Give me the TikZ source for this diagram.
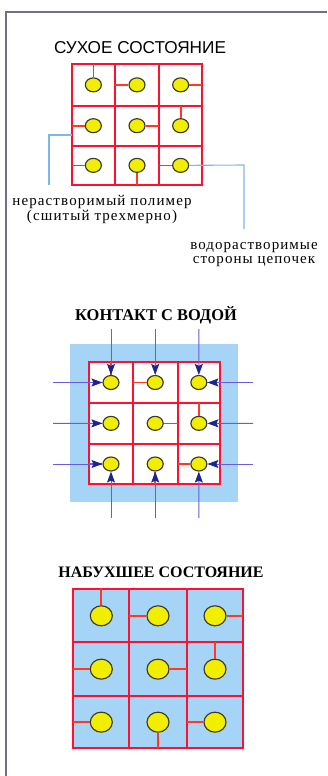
\documentclass[tikz,border=0pt]{standalone}
\usepackage{fontspec}
\setmainfont{Liberation Serif}
\newfontfamily\titlesans{Liberation Sans}
\usetikzlibrary{arrows.meta,shapes.geometric}
\definecolor{gridred}{HTML}{FF1030}
\definecolor{connred}{HTML}{FF3A20}
\definecolor{dotyellow}{HTML}{F2EE00}
\definecolor{dotedge}{HTML}{3A3A2A}
\definecolor{waterblue}{HTML}{A6D4F6}
\definecolor{leaderblue}{HTML}{7FB6F0}
\definecolor{arrowline}{HTML}{6A5CD8}
\definecolor{arrowhead}{HTML}{1A2590}
\definecolor{framegray}{HTML}{6E7088}
\tikzset{
  gridline/.style={draw=gridred, line width=1.9pt},
  conn/.style={draw=connred, line width=1.7pt},
  dot/.style={ellipse, draw=dotedge, fill=dotyellow, line width=1.15pt, inner sep=0pt, minimum width=16pt, minimum height=14pt},
  leader/.style={draw=leaderblue, line width=1.1pt},
  water/.style={draw=arrowline, line width=0.9pt, -{Stealth[length=11pt,width=8pt,inset=2pt,color=arrowhead]}},
  lbl/.style={align=center, inner sep=0pt},
}
\newcommand\gridpanel[9]{%
  \pgfmathsetmacro\cxa{(#2+#3)/2}\pgfmathsetmacro\cxb{(#3+#4)/2}\pgfmathsetmacro\cxc{(#4+#5)/2}%
  \pgfmathsetmacro\cya{(#6+#7)/2}\pgfmathsetmacro\cyb{(#7+#8)/2}\pgfmathsetmacro\cyc{(#8+#9)/2}%
  \draw[gridline] (#3,#6) -- (#3,#9) (#4,#6) -- (#4,#9) (#2,#7) -- (#5,#7) (#2,#8) -- (#5,#8);
  \draw[gridline] (#2,#6) rectangle (#5,#9);
  \node[dot] (#1-11) at (\cxa,\cya) {};
  \node[dot] (#1-12) at (\cxb,\cya) {};
  \node[dot] (#1-13) at (\cxc,\cya) {};
  \node[dot] (#1-21) at (\cxa,\cyb) {};
  \node[dot] (#1-22) at (\cxb,\cyb) {};
  \node[dot] (#1-23) at (\cxc,\cyb) {};
  \node[dot] (#1-31) at (\cxa,\cyc) {};
  \node[dot] (#1-32) at (\cxb,\cyc) {};
  \node[dot] (#1-33) at (\cxc,\cyc) {};
  \draw[conn] (#1-11.north) -- (\cxa,#6);
  \draw[conn] (#1-12.west) -- (#3,\cya);
  \draw[conn] (#1-13.east) -- (#5,\cya);
  \draw[conn] (#1-21.west) -- (#2,\cyb);
  \draw[conn] (#1-22.east) -- (#4,\cyb);
  \draw[conn] (#1-23.north) -- (\cxc,#7);
  \draw[conn] (#1-31.west) -- (#2,\cyc);
  \draw[conn] (#1-32.south) -- (\cxb,#9);
  \draw[conn] (#1-33.west) -- (#4,\cyc);
}
\begin{document}
\begin{tikzpicture}[x=1pt,y=-1pt]
\useasboundingbox (0,0) rectangle (327,776);
\fill[white] (0,0) rectangle (327,776);
% frame
\draw[framegray, line width=1.4pt] (6,776) -- (6,12) -- (327,12);

% ---------- dry state ----------
\node[font=\titlesans\fontsize{17.2}{19}\selectfont, inner sep=0pt] (t1) at (140,47.5) {СУХОЕ СОСТОЯНИЕ};
\gridpanel{d}{71.7}{115}{159}{202.3}{64}{105.7}{145.7}{185}
\node[lbl, anchor=north, font=\fontsize{15}{13.5}\selectfont\addfontfeature{LetterSpace=7.5}] (l1) at (102,195.5) {нерастворимый полимер\\(сшитый трехмерно)};
\node[lbl, anchor=north, font=\fontsize{15}{13.5}\selectfont\addfontfeature{LetterSpace=7}] (l2) at (254,242.5) {водорастворимые\\стороны цепочек};
\coordinate (lA) at (49,135);
\coordinate (lB) at (49,185);
\coordinate (rA) at (244,165);
\coordinate (rB) at (244,229);
\draw[leader] (71.7,135) -- (lA) -- (lB);
\draw[leader] (d-33.east) -- (rA) -- (rB);

% ---------- contact with water ----------
\node[font=\bfseries\fontsize{16.4}{18}\selectfont, inner sep=0pt] (t2) at (156,315) {КОНТАКТ С ВОДОЙ};
\fill[waterblue] (70,344) rectangle (238,502);
\fill[white] (89.3,362.3) rectangle (220,484);
\gridpanel{c}{89.3}{132.7}{177.7}{220}{362.3}{402.7}{444}{484}
\foreach \c/\xx in {1/111,2/155.2,3/198.8}{
  \coordinate (ct\c) at (\xx,329);
  \coordinate (cb\c) at (\xx,518);
  \draw[water] (ct\c) -- (c-1\c.north);
  \draw[water] (cb\c) -- (c-3\c.south);
}
\foreach \r/\yy in {1/382.5,2/423.3,3/464}{
  \coordinate (cl\r) at (53,\yy);
  \coordinate (cr\r) at (253,\yy);
  \draw[water] (cl\r) -- (c-\r1.west);
  \draw[water] (cr\r) -- (c-\r3.east);
}

% ---------- swollen state ----------
\node[font=\bfseries\fontsize{16}{18}\selectfont, inner sep=0pt] (t3) at (161,572.5) {НАБУХШЕЕ СОСТОЯНИЕ};
\fill[waterblue] (73.3,589.3) rectangle (243.3,748.3);
\tikzset{dot/.append style={minimum width=22pt, minimum height=20pt}}
\gridpanel{s}{73.3}{129.3}{186.7}{243.3}{589.3}{642.3}{696}{748.3}
\end{tikzpicture}
\end{document}
